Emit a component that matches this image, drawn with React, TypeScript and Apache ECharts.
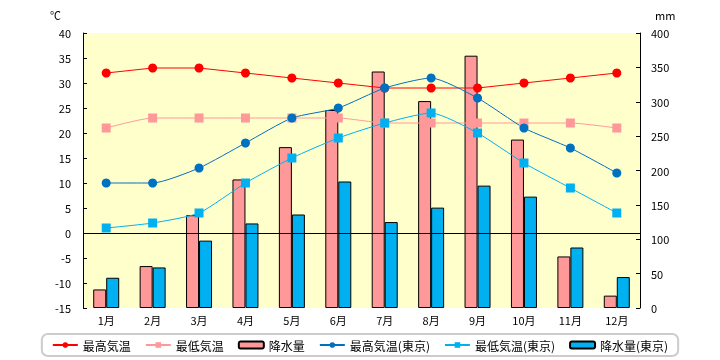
import React, { useEffect, useRef } from "react";
import * as echarts from "echarts";

const months = ["1月", "2月", "3月", "4月", "5月", "6月", "7月", "8月", "9月", "10月", "11月", "12月"];
const maxTemp = [32, 33, 33, 32, 31, 30, 29, 29, 29, 30, 31, 32];
const minTemp = [21, 23, 23, 23, 23, 23, 22, 22, 22, 22, 22, 21];
const rain = [27, 61, 135, 187, 234, 288, 344, 301, 367, 245, 75, 18];
const maxTempTokyo = [10, 10, 13, 18, 23, 25, 29, 31, 27, 21, 17, 12];
const minTempTokyo = [1, 2, 4, 10, 15, 19, 22, 24, 20, 14, 9, 4];
const rainTokyo = [44, 59, 98, 123, 136, 184, 125, 146, 178, 162, 88, 45];

const FONT = "'Noto Sans CJK JP', sans-serif";

export default function App() {
  const ref = useRef<HTMLDivElement>(null);
  useEffect(() => {
    if (!ref.current) return;
    const chart = echarts.init(ref.current, null, { renderer: "svg" });
    const lineBase = (name: string, data: number[], color: string, symbol: string, size: number, smooth: any) => ({
      name,
      type: "line",
      data,
      yAxisIndex: 0,
      symbol,
      symbolSize: size,
      smooth,
      lineStyle: { color, width: 1 },
      itemStyle: { color },
      z: 5,
    });
    chart.setOption({
      animation: false,
      textStyle: { fontFamily: FONT },
      grid: {
        left: 83,
        right: 80,
        top: 33,
        bottom: 52,
        show: true,
        backgroundColor: "#ffffcc",
        borderWidth: 0,
      },
      legend: {
        top: 334,
        left: "center",
        padding: [4, 10, 4, 10],
        borderColor: "#cccccc",
        borderWidth: 2,
        borderRadius: 6,
        itemGap: 14,
        itemWidth: 25,
        itemHeight: 7,
        textStyle: { fontFamily: FONT, fontSize: 12, color: "#000", lineHeight: 14 },
        data: ["最高気温", "最低気温", "降水量", "最高気温(東京)", "最低気温(東京)", "降水量(東京)"],
      },
      xAxis: {
        type: "category",
        data: months,
        axisLine: { show: false },
        axisTick: { show: false },
        axisLabel: { color: "#000", fontSize: 11, fontFamily: FONT, margin: 6 },
      },
      yAxis: [
        {
          type: "value",
          min: -15,
          max: 40,
          interval: 5,
          name: "℃",
          nameLocation: "end",
          nameGap: 13,
          nameTextStyle: { color: "#000", fontSize: 11, fontFamily: FONT, align: "right", padding: [0, 22, 0, 0] },
          axisLine: { show: true, lineStyle: { color: "#000", width: 1 } },
          axisTick: { show: true, inside: true, length: 4, lineStyle: { color: "#000" } },
          axisLabel: { color: "#000", fontSize: 11, fontFamily: FONT, margin: 12 },
          splitLine: { show: false },
        },
        {
          type: "value",
          min: 0,
          max: 400,
          interval: 50,
          name: "mm",
          nameLocation: "end",
          nameGap: 13,
          nameTextStyle: { color: "#000", fontSize: 11, fontFamily: FONT, align: "left", padding: [0, 0, 0, 15] },
          axisLine: { show: true, lineStyle: { color: "#000", width: 1 } },
          axisTick: { show: true, inside: true, length: 4, lineStyle: { color: "#000" } },
          axisLabel: { color: "#000", fontSize: 11, fontFamily: FONT, margin: 11 },
          splitLine: { show: false },
        },
      ],
      series: [
        {
          name: "降水量",
          type: "bar",
          data: rain,
          yAxisIndex: 1,
          barWidth: 13,
          barGap: "0%",
          itemStyle: { color: "#ff9999", borderColor: "#000", borderWidth: 1 },
          z: 2,
        },
        {
          name: "降水量(東京)",
          type: "bar",
          data: rainTokyo,
          yAxisIndex: 1,
          barWidth: 13,
          barGap: "0%",
          itemStyle: { color: "#00b0f0", borderColor: "#000", borderWidth: 1 },
          z: 2,
        },
        {
          ...lineBase("最高気温", maxTemp, "#ff0000", "circle", 9, false),
          markLine: {
            silent: true,
            symbol: "none",
            label: { show: false },
            lineStyle: { color: "#000", width: 1, type: "solid" },
            data: [{ yAxis: 0 }],
          },
        },
        lineBase("最低気温", minTemp, "#ff9999", "rect", 9, 0.2),
        lineBase("最高気温(東京)", maxTempTokyo, "#0070c0", "circle", 9, 0.2),
        lineBase("最低気温(東京)", minTempTokyo, "#00b0f0", "rect", 9, 0.2),
      ],
    });
    return () => chart.dispose();
  }, []);
  return <div ref={ref} style={{ position: "fixed", left: 0, top: 0, width: 720, height: 360 }} />;
}
